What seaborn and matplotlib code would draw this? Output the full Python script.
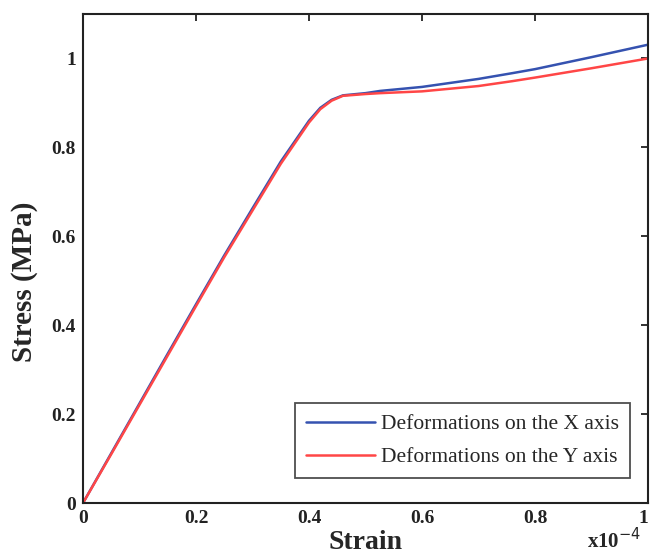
import numpy as np
import pandas as pd
import matplotlib
matplotlib.use("Agg")
import matplotlib.pyplot as plt
import seaborn as sns

strain_x = [0.0, 0.05, 0.10, 0.15, 0.20, 0.25, 0.30, 0.35, 0.40, 0.42, 0.44, 0.46, 0.50, 0.526, 0.60, 0.70, 0.76, 0.80, 0.90, 1.00]
stress_x = [0.0, 0.112, 0.224, 0.336, 0.447, 0.557, 0.663, 0.768, 0.860, 0.889, 0.907, 0.917, 0.922, 0.927, 0.936, 0.954, 0.967, 0.976, 1.003, 1.031]
strain_y = [0.0, 0.05, 0.10, 0.15, 0.20, 0.25, 0.30, 0.35, 0.40, 0.42, 0.44, 0.46, 0.50, 0.526, 0.60, 0.70, 0.76, 0.80, 0.90, 1.00]
stress_y = [0.0, 0.110, 0.221, 0.332, 0.443, 0.553, 0.658, 0.763, 0.856, 0.886, 0.905, 0.916, 0.920, 0.922, 0.926, 0.938, 0.949, 0.957, 0.978, 1.000]
series_labels = ["Deformations on the X axis", "Deformations on the Y axis"]
x_ticks = [0, 0.2, 0.4, 0.6, 0.8, 1.0]
x_ticklabels = ["0", "0.2", "0.4", "0.6", "0.8", "1"]
y_ticks = [0, 0.2, 0.4, 0.6, 0.8, 1.0]
y_ticklabels = ["0", "0.2", "0.4", "0.6", "0.8", "1"]

df = pd.concat([
    pd.DataFrame({"strain": strain_x, "stress": stress_x, "series": series_labels[0]}),
    pd.DataFrame({"strain": strain_y, "stress": stress_y, "series": series_labels[1]}),
])

sns.set_theme(style="white")
plt.rcParams['font.family'] = ['Liberation Serif', 'DejaVu Serif']

fig = plt.figure(figsize=(6.5, 5.56), dpi=100)
ax = fig.add_axes([0.1277, 0.0953, 0.8693, 0.8795])

sns.lineplot(data=df, x="strain", y="stress", hue="series",
             palette={series_labels[0]: "#3552b0", series_labels[1]: "#ff4646"},
             linewidth=1.8, ax=ax, sort=False, estimator=None)

ax.set_xlim(0, 1.0)
ax.set_ylim(0, 1.1)
ax.set_xticks(x_ticks)
ax.set_xticklabels(x_ticklabels)
ax.set_yticks(y_ticks)
ax.set_yticklabels(y_ticklabels)
ax.tick_params(direction="in", length=5, width=1.3, top=True, right=True,
               labelsize=14, colors="#222222", pad=5)
for lab in ax.get_xticklabels() + ax.get_yticklabels():
    lab.set_fontweight("bold")
ax.get_xticklabels()[-1].set_ha("right")
for s in ax.spines.values():
    s.set_visible(True)
    s.set_linewidth(1.5)
    s.set_color("#222222")

ax.set_xlabel("Strain", fontsize=20, fontweight="bold", labelpad=2)
ax.set_ylabel("Stress (MPa)", fontsize=21, fontweight="bold")
ax.yaxis.set_label_coords(-0.079, 0.452)
fig.text(0.945, 0.005, r"x10$^{-4}$", fontsize=15, fontweight="bold", ha="center", va="bottom")

leg = ax.legend(loc="lower right", bbox_to_anchor=(0.968, 0.051), frameon=True,
                fancybox=False, edgecolor="#222222", fontsize=15.5,
                handlelength=3.2, handletextpad=0.3, borderpad=0.5, labelspacing=0.6,
                borderaxespad=0.0)
leg.get_frame().set_linewidth(1.3)
leg.set_title(None)

fig.savefig("out.png", dpi=100)
